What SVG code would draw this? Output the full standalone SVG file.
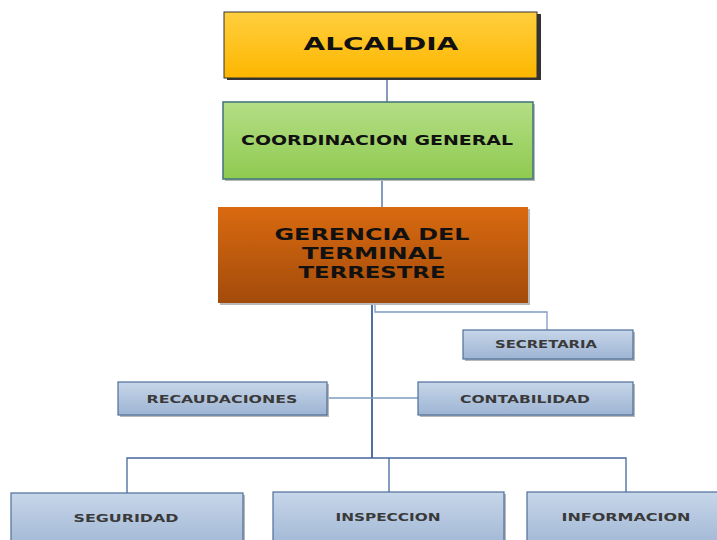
<svg xmlns="http://www.w3.org/2000/svg" width="717" height="540" viewBox="0 0 717 540">
<defs>
<linearGradient id="gY" x1="0" y1="0" x2="0" y2="1"><stop offset="0" stop-color="#FFCF3E"/><stop offset="1" stop-color="#FDB600"/></linearGradient>
<linearGradient id="gG" x1="0" y1="0" x2="0" y2="1"><stop offset="0" stop-color="#B4DE85"/><stop offset="1" stop-color="#8FCA50"/></linearGradient>
<linearGradient id="gO" x1="0" y1="0" x2="0" y2="1"><stop offset="0" stop-color="#DA6A10"/><stop offset="1" stop-color="#A24B0B"/></linearGradient>
<linearGradient id="gB" x1="0" y1="0" x2="0" y2="1"><stop offset="0" stop-color="#C7D6E9"/><stop offset="1" stop-color="#9DB4D3"/></linearGradient>
</defs>
<style>
.box{fill:url(#gB);stroke:#4F6E9A;stroke-width:1.2}
.sh{fill:#B8B8B8}
.lbl{font-family:"DejaVu Sans",sans-serif;font-weight:bold;font-size:11px;fill:#3A3A3A;text-anchor:middle}
.big{font-family:"DejaVu Sans",sans-serif;font-weight:bold;fill:#111;text-anchor:middle}
.c{fill:none;stroke:#44679C;stroke-width:1.3}
.cl{fill:none;stroke:#7E9BC2;stroke-width:1.3}
.ct{fill:none;stroke:#294B85;stroke-width:1.6}
</style>
<g id="connectors">
<line class="c" x1="387" y1="78" x2="387" y2="102"/>
<line class="c" x1="382" y1="179" x2="382" y2="207"/>
<line class="ct" x1="372" y1="303" x2="372" y2="458"/>
<polyline class="cl" points="375,303 375,312 547,312 547,330"/>
<line class="cl" x1="327" y1="398" x2="418" y2="398"/>
<polyline class="c" points="127,493 127,458 626,458 626,492"/>
<line class="c" x1="389" y1="458" x2="389" y2="492"/>
</g>
<g id="alcaldia">
<rect x="227" y="14" width="314" height="66" fill="#333"/>
<rect x="224" y="12" width="313" height="66" fill="url(#gY)" stroke="#333" stroke-width="1"/>
<text class="big" x="381" y="50" font-size="17" textLength="155" lengthAdjust="spacingAndGlyphs">ALCALDIA</text>
</g>
<g id="coordinacion">
<rect x="225" y="104" width="310" height="77" class="sh"/>
<rect x="223" y="102" width="310" height="77" fill="url(#gG)" stroke="#47797E" stroke-width="1.6"/>
<text class="big" x="377" y="145" font-size="14" textLength="272" lengthAdjust="spacingAndGlyphs">COORDINACION GENERAL</text>
</g>
<g id="gerencia">
<rect x="220" y="209" width="310" height="96" class="sh"/>
<rect x="218" y="207" width="310" height="96" fill="url(#gO)"/>
<text class="big" x="372" y="240" font-size="15" textLength="195" lengthAdjust="spacingAndGlyphs">GERENCIA DEL</text>
<text class="big" x="372" y="259" font-size="15" textLength="140" lengthAdjust="spacingAndGlyphs">TERMINAL</text>
<text class="big" x="372" y="278" font-size="15" textLength="147" lengthAdjust="spacingAndGlyphs">TERRESTRE</text>
</g>
<g id="secretaria">
<rect x="465" y="332" width="170" height="29" class="sh"/>
<rect x="463" y="330" width="170" height="29" class="box"/>
<text class="lbl" x="546" y="348" textLength="102" lengthAdjust="spacingAndGlyphs">SECRETARIA</text>
</g>
<g id="recaudaciones">
<rect x="120" y="384" width="209" height="33" class="sh"/>
<rect x="118" y="382" width="209" height="33" class="box"/>
<text class="lbl" x="222" y="403" textLength="151" lengthAdjust="spacingAndGlyphs">RECAUDACIONES</text>
</g>
<g id="contabilidad">
<rect x="420" y="384" width="215" height="33" class="sh"/>
<rect x="418" y="382" width="215" height="33" class="box"/>
<text class="lbl" x="525" y="403" textLength="130" lengthAdjust="spacingAndGlyphs">CONTABILIDAD</text>
</g>
<g id="seguridad">
<rect x="13" y="495" width="232" height="60" class="sh"/>
<rect x="11" y="493" width="232" height="60" class="box"/>
<text class="lbl" x="126" y="522" textLength="105" lengthAdjust="spacingAndGlyphs">SEGURIDAD</text>
</g>
<g id="inspeccion">
<rect x="275" y="494" width="231" height="60" class="sh"/>
<rect x="273" y="492" width="231" height="60" class="box"/>
<text class="lbl" x="388" y="521" textLength="105" lengthAdjust="spacingAndGlyphs">INSPECCION</text>
</g>
<g id="informacion">
<rect x="529" y="494" width="200" height="60" class="sh"/>
<rect x="527" y="492" width="200" height="60" class="box"/>
<text class="lbl" x="626" y="521" textLength="129" lengthAdjust="spacingAndGlyphs">INFORMACION</text>
</g>
</svg>
